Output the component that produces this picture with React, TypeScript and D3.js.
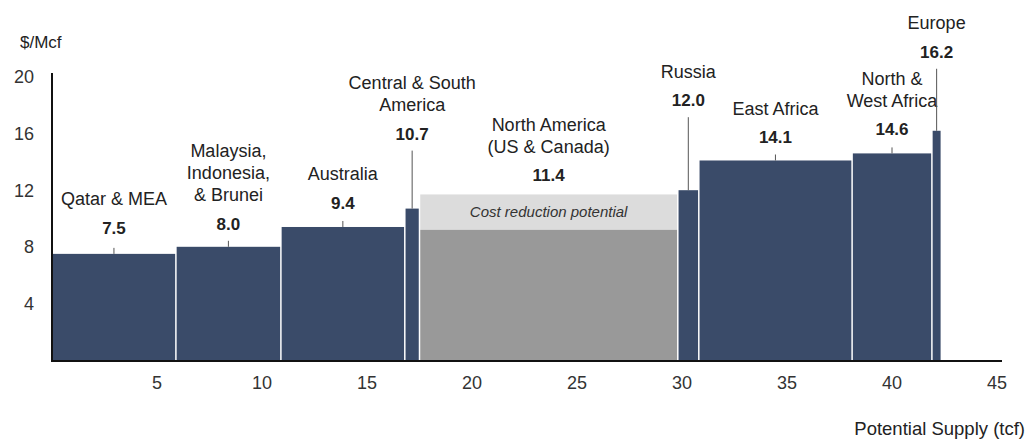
import * as d3 from "d3";

// supply curve data
const regions = [
  "Qatar & MEA",
  "Malaysia, Indonesia, & Brunei",
  "Australia",
  "Central & South America",
  "North America (US & Canada)",
  "Russia",
  "East Africa",
  "North & West Africa",
  "Europe",
];
const nameLines = [
  ["Qatar & MEA"],
  ["Malaysia,", "Indonesia,", "& Brunei"],
  ["Australia"],
  ["Central & South", "America"],
  ["North America", "(US & Canada)"],
  ["Russia"],
  ["East Africa"],
  ["North &", "West Africa"],
  ["Europe"],
];
const supply = [5.9, 5.0, 5.9, 0.7, 12.3, 1.0, 7.3, 3.8, 0.45];
const cost = [7.5, 8.0, 9.4, 10.7, 11.4, 12.0, 14.1, 14.6, 16.2];
const costReductionBand = [9.2, 11.7];
const yTicks = [4, 8, 12, 16, 20];
const xTicks = [5, 10, 15, 20, 25, 30, 35, 40, 45];

// label layout (px above bar top) – narrow bars get long leader lines
const labelLift = [26, 23, 24, 75, 19, 90, 23, 24, 79];
const narrow = [false, false, false, true, false, true, false, false, true];

const W = 1030;
const H = 439;
const FONT = "'Liberation Sans', Arial, sans-serif";
const NAVY = "#3a4b69";

export default function App() {
  const x = d3.scaleLinear().domain([0, 45]).range([52, 997]);
  const y = d3.scaleLinear().domain([0, 20]).range([360, 77]);

  const starts = d3.cumsum([0, ...supply]);

  return (
    <svg
      width={W}
      height={H}
      style={{ position: "absolute", left: 0, top: 0, background: "#fff" }}
      fontFamily={FONT}
    >
      {/* bars */}
      {regions.map((r, i) => {
        const x0 = x(starts[i]);
        const x1 = x(starts[i + 1]);
        if (i === 4) {
          return (
            <g key={r}>
              <rect
                x={x0 + 0.75}
                y={y(costReductionBand[1])}
                width={x1 - x0 - 1.5}
                height={y(costReductionBand[0]) - y(costReductionBand[1])}
                fill="#dcdcdc"
              />
              <rect
                x={x0 + 0.75}
                y={y(costReductionBand[0])}
                width={x1 - x0 - 1.5}
                height={y(0) - y(costReductionBand[0])}
                fill="#999999"
              />
            </g>
          );
        }
        return (
          <rect
            key={r}
            x={x0 + 0.75}
            y={y(cost[i])}
            width={x1 - x0 - 1.5}
            height={y(0) - y(cost[i])}
            fill={NAVY}
          />
        );
      })}

      {/* labels */}
      {regions.map((r, i) => {
        const cx = (x(starts[i]) + x(starts[i + 1])) / 2;
        const top = i === 4 ? y(costReductionBand[1]) : y(cost[i]);
        const vy = top - labelLift[i];
        const lines = nameLines[i];
        const lineGap = 22;
        const lastY = vy - 29;
        return (
          <g key={r}>
            {lines.map((l, k) => (
              <text
                key={k}
                x={cx}
                y={lastY - (lines.length - 1 - k) * lineGap}
                dy="0.35em"
                textAnchor="middle"
                fontSize={18}
                fill="#222"
              >
                {l}
              </text>
            ))}
            <text
              x={cx}
              y={vy}
              dy="0.35em"
              textAnchor="middle"
              fontSize={17}
              fontWeight="bold"
              fill="#222"
            >
              {d3.format(".1f")(cost[i])}
            </text>
            {i !== 4 && (
              <line
                x1={cx}
                x2={cx}
                y1={narrow[i] ? vy + 17 : top - 6}
                y2={top}
                stroke="#555"
                strokeWidth={1}
              />
            )}
          </g>
        );
      })}

      <text
        x={(x(starts[4]) + x(starts[5])) / 2}
        y={(y(costReductionBand[0]) + y(costReductionBand[1])) / 2}
        dy="0.35em"
        textAnchor="middle"
        fontSize={15}
        fontStyle="italic"
        fill="#333"
      >
        Cost reduction potential
      </text>

      {/* axes */}
      <line x1={52} x2={52} y1={73} y2={361} stroke="#111" strokeWidth={2} />
      <line x1={51} x2={1002} y1={361} y2={361} stroke="#111" strokeWidth={2} />

      {yTicks.map((t) => (
        <text
          key={t}
          x={34}
          y={y(t)}
          dy="0.35em"
          textAnchor="end"
          fontSize={18}
          fill="#333"
        >
          {t}
        </text>
      ))}
      {xTicks.map((t) => (
        <text
          key={t}
          x={x(t)}
          y={383}
          dy="0.35em"
          textAnchor="middle"
          fontSize={18}
          fill="#333"
        >
          {t}
        </text>
      ))}

      <text x={20} y={42} dy="0.35em" fontSize={17} fill="#222">
        $/Mcf
      </text>
      <text x={1025} y={429} dy="0.35em" textAnchor="end" fontSize={18.5} fill="#222">
        Potential Supply (tcf)
      </text>
    </svg>
  );
}
